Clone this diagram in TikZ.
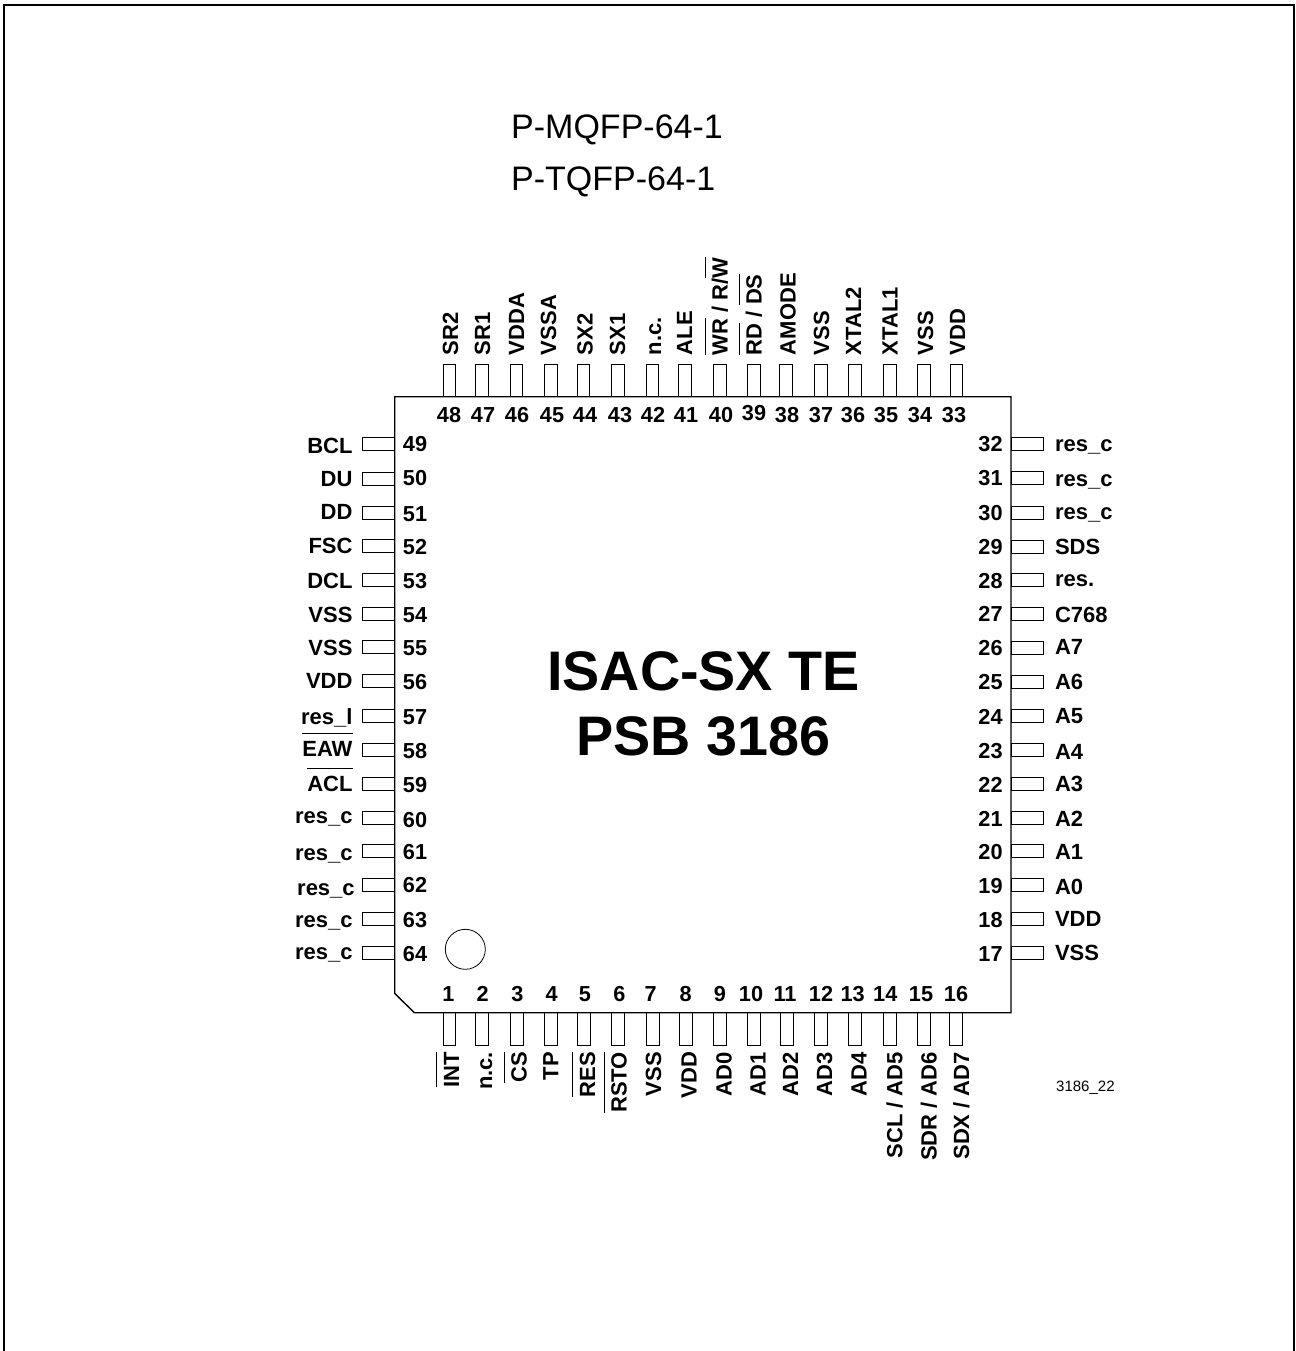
\documentclass[tikz,border=0pt]{standalone}
\usepackage{fontspec}
\setmainfont{Liberation Sans}
\newcommand\ovl[1]{\setbox0\hbox{#1}\leavevmode\rlap{\rule[0.98em]{\wd0}{0.06em}}\box0\relax}
\tikzset{
  pinh/.style={draw,fill=white,line width=1pt,minimum width=32.5pt,minimum height=12.5pt,inner sep=0pt,outer sep=0pt},
  pinv/.style={draw,fill=white,line width=1pt,minimum width=12.5pt,minimum height=32.5pt,inner sep=0pt,outer sep=0pt},
  lab/.style={font=\bfseries\fontsize{22}{22}\selectfont,inner sep=0pt,outer sep=0pt},
  num/.style={font=\bfseries\fontsize{21.7}{22}\selectfont,inner sep=0pt,outer sep=0pt,anchor=base},
}
% number, pin y, number y, label, label right-end x, label baseline y
\newcommand\leftpin[6]{\node[pinh] (pin#1) at (378.3,#2) {};
  \node[num] (num#1) at (415,#3+7.5) {#1};
  \node[lab,anchor=base east] (lab#1) at (#5,#6) {#4};}
\newcommand\rightpin[5]{\node[pinh] (pin#1) at (1027.3,#2) {};
  \node[num] (num#1) at (990.5,#3+7.5) {#1};
  \node[lab,anchor=base west] (lab#1) at (1055,#5) {#4};}
% [number baseline] number, pin x, number x, label, label centre x
\newcommand\toppin[6][422]{\node[pinv] (pin#2) at (#3,380.3) {};
  \node[num] (num#2) at (#4,#1) {#2};
  \node[lab,rotate=90,anchor=base west] (lab#2) at (#6+8,355) {#5};}
\newcommand\botpin[5]{\node[pinv] (pin#1) at (#2,1029) {};
  \node[num] (num#1) at (#3,1001) {#1};
  \node[lab,rotate=90,anchor=base east] (lab#1) at (#5+8,1052) {#4};}
\begin{document}
\begin{tikzpicture}[x=1pt,y=-1pt]
\useasboundingbox (0,0) rectangle (1295,1351);
\draw[line width=2pt] (4,1351) -- (4,5.5) -- (1294,5.5) -- (1294,1351);
\node[font=\fontsize{34}{34}\selectfont,inner sep=0pt,anchor=base west] (t1) at (511,139) {P-MQFP-64-1};
\node[font=\fontsize{34}{34}\selectfont,inner sep=0pt,anchor=base west] (t2) at (511,190) {P-TQFP-64-1};
\node[font=\fontsize{15}{15}\selectfont,inner sep=0pt,anchor=base west] (code) at (1056,1091) {3186\_22};
% pins first, body over their inner ends
\toppin{48}{449.5}{449}{SR2}{450}
\toppin{47}{482}{483}{SR1}{482}
\toppin{46}{516.5}{517}{VDDA}{516}
\toppin{45}{551}{552}{VSSA}{548}
\toppin{44}{583.5}{585}{SX2}{584.5}
\toppin{43}{618}{620}{SX1}{617}
\toppin{42}{652.5}{653}{n.c.}{653}
\toppin{41}{685}{686}{ALE}{684}
\toppin{40}{720}{721}{\ovl{WR} / R/\ovl{W}}{719.5}
\toppin[420]{39}{754}{754}{\ovl{RD} / \ovl{DS}}{753.5}
\toppin{38}{786}{787}{AMODE}{787.5}
\toppin{37}{821}{821}{VSS}{821}
\toppin{36}{855}{853}{XTAL2}{853}
\toppin{35}{890}{886}{XTAL1}{889.5}
\toppin{34}{924}{920}{VSS}{925}
\toppin{33}{956.5}{954}{VDD}{957}
\botpin{1}{449.5}{448.5}{\ovl{INT}}{451}
\botpin{2}{482}{482.7}{n.c.}{484}
\botpin{3}{517}{517.3}{\ovl{CS}}{518.7}
\botpin{4}{551}{551.7}{TP}{550.3}
\botpin{5}{584}{585}{\ovl{RES}}{587}
\botpin{6}{618}{619.3}{\ovl{RSTO}}{618.5}
\botpin{7}{653}{650.7}{VSS}{653}
\botpin{8}{686}{685.7}{VDD}{688.5}
\botpin{9}{720}{720}{AD0}{723.5}
\botpin{10}{754}{751}{AD1}{757.5}
\botpin{11}{787}{785}{AD2}{790}
\botpin{12}{821}{821}{AD3}{824}
\botpin{13}{855}{852.7}{AD4}{858.7}
\botpin{14}{890}{885.3}{SCL / AD5}{894.3}
\botpin{15}{924}{921}{SDR / AD6}{928.7}
\botpin{16}{956}{956}{SDX / AD7}{961}
\leftpin{49}{444}{444}{BCL}{352.5}{453}
\leftpin{50}{479}{478}{DU}{352.5}{486}
\leftpin{51}{513}{514}{DD}{352.5}{519}
\leftpin{52}{546}{547}{FSC}{352.5}{553}
\leftpin{53}{580}{581}{DCL}{352.5}{588}
\leftpin{54}{614}{615}{VSS}{352.5}{622}
\leftpin{55}{647}{648}{VSS}{352.5}{655}
\leftpin{56}{681}{682}{VDD}{352.5}{688}
\leftpin{57}{716}{717}{res\_l}{352.5}{724}
\leftpin{58}{750}{751}{\ovl{EAW}}{352.5}{756}
\leftpin{59}{784}{785}{\ovl{ACL}}{352.5}{791}
\leftpin{60}{818}{820}{res\_c}{352.5}{823.5}
\leftpin{61}{851}{852}{res\_c}{352.5}{860}
\leftpin{62}{885}{885}{res\_c}{354.7}{895.5}
\leftpin{63}{919}{920}{res\_c}{352.5}{927}
\leftpin{64}{953}{954}{res\_c}{352.5}{959.5}
\rightpin{32}{444}{444}{res\_c}{451}
\rightpin{31}{478}{478}{res\_c}{486}
\rightpin{30}{513}{513}{res\_c}{519}
\rightpin{29}{547}{547}{SDS}{554}
\rightpin{28}{580}{581}{res.}{586}
\rightpin{27}{614}{614}{C768}{622}
\rightpin{26}{648}{648}{A7}{654}
\rightpin{25}{682}{682}{A6}{689}
\rightpin{24}{716}{717}{A5}{723}
\rightpin{23}{750}{751}{A4}{759}
\rightpin{22}{784}{785}{A3}{791}
\rightpin{21}{818}{819}{A2}{826}
\rightpin{20}{851}{852}{A1}{859}
\rightpin{19}{885}{886}{A0}{894}
\rightpin{18}{919}{920}{VDD}{926}
\rightpin{17}{953}{954}{VSS}{960}
\draw[line width=1.4pt] (394.7,396.7) -- (1011,396.7) -- (1011,1012.7) -- (414.3,1012.7) -- (394.7,993.3) -- cycle;
\node[circle,draw,line width=0.8pt,minimum size=40pt,inner sep=0pt] (dot) at (465.3,949.3) {};
\node[font=\bfseries\fontsize{55.7}{56}\selectfont,inner sep=0pt,anchor=base] (name1) at (703.5,690) {ISAC-SX TE};
\node[font=\bfseries\fontsize{55.7}{56}\selectfont,inner sep=0pt,anchor=base] (name2) at (703.5,755.5) {PSB 3186};
\end{tikzpicture}
\end{document}
